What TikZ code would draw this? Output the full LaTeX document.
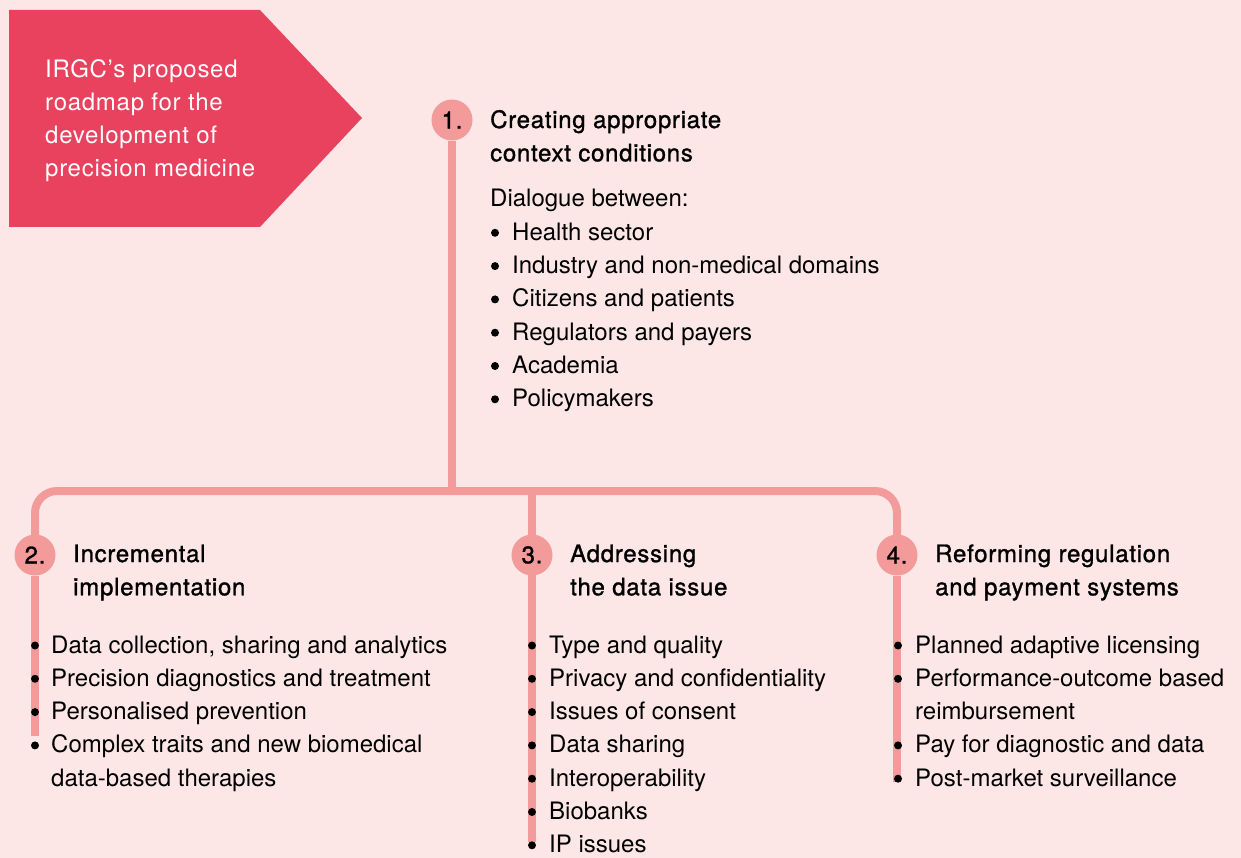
\documentclass[tikz,border=0pt]{standalone}
\usepackage{fontspec}
\setmainfont{TeX Gyre Heros}
\newfontfamily\medfont{TeX Gyre Heros}[FakeBold=1.2,LetterSpace=3]
\newfontfamily\widefont{TeX Gyre Heros}[LetterSpace=3]
\usetikzlibrary{positioning}
\definecolor{bgpink}{HTML}{FCE7E6}
\definecolor{bannerred}{HTML}{E9425E}
\definecolor{linepink}{HTML}{F39A9A}
\pgfdeclarelayer{behind}
\pgfsetlayers{behind,main}
\newcommand\bodyfont{\fontsize{24}{33.3}\selectfont}
\newcommand\headfont{\fontsize{24}{33.3}\medfont}
\newcommand\stack[1]{\begin{tabular}[t]{@{}l@{}}#1\end{tabular}}
\newcommand\bulletdots[3]{% x of the dots, first baseline, line numbers
  \foreach \k in {#3}{
    \fill[black] (#1,{#2+33.3*\k-7.5}) circle (4);
  }
}

\begin{document}
\begin{tikzpicture}[x=1pt,y=-1pt,
    body/.style={anchor=base west,inner sep=0pt,font=\bodyfont},
    head/.style={anchor=base west,inner sep=0pt,font=\headfont},
    numdot/.style={circle,fill=linepink,minimum size=41pt,inner sep=0pt,font=\headfont},
    branch/.style={draw=linepink,line width=8pt}]
  \useasboundingbox (0,0) rectangle (1241,858);
  % banner
  \fill[bannerred] (9,10) -- (260,10) -- (362,118) -- (260,227) -- (9,227) -- cycle;
  \node[body,text=white,font=\fontsize{24}{33}\widefont] (title) at (45,78)
    {\stack{IRGC’s proposed\\roadmap for the\\development of\\precision medicine}};
  % numbered steps
  \node[numdot] (n1) at (452,120) {1.};
  \node[numdot] (n2) at (35,555) {2.};
  \node[numdot] (n3) at (532,555) {3.};
  \node[numdot] (n4) at (897,555) {4.};
  \node[head] (h1) at (490,128) {\stack{Creating appropriate\\context conditions}};
  \node[head] (h2) at (73,562) {\stack{Incremental\\implementation}};
  \node[head] (h3) at (570,562) {\stack{Addressing\\the data issue}};
  \node[head] (h4) at (935,562) {\stack{Reforming regulation\\and payment systems}};
  % lists
  \node[body] (intro) at (490,207) {Dialogue between:};
  \node[body] (list1) at (512,240.3) {\stack{Health sector\\Industry and non-medical domains\\Citizens and patients\\Regulators and payers\\Academia\\Policymakers}};
  \node[body] (list2) at (51,653) {\stack{Data collection, sharing and analytics\\Precision diagnostics and treatment\\Personalised prevention\\Complex traits and new biomedical\\data-based therapies}};
  \node[body] (list3) at (549,653) {\stack{Type and quality\\Privacy and confidentiality\\Issues of consent\\Data sharing\\Interoperability\\Biobanks\\IP issues}};
  \node[body] (list4) at (915,653) {\stack{Planned adaptive licensing\\Performance-outcome based\\reimbursement\\Pay for diagnostic and data\\Post-market surveillance}};
  % tree
  \coordinate (hub) at (452,491);
  \coordinate (end2) at (35,736);
  \coordinate (end3) at (532,842);
  \coordinate (end4) at (897,782);
  \begin{pgfonlayer}{behind}
    \fill[bgpink] (0,0) rectangle (1241,858);
    \draw[branch] (n1) -- (hub);
    \draw[branch,rounded corners=22pt] (n2.center) |- (hub) -| (n4.center);
    \draw[branch] (n2) -- (end2);
    \draw[branch] (hub -| n3) -- (end3);
    \draw[branch] (n4) -- (end4);
  \end{pgfonlayer}
  \bulletdots{495}{240.3}{0,...,5}
  \bulletdots{35}{653}{0,1,2,3}
  \bulletdots{532}{653}{0,...,6}
  \bulletdots{898}{653}{0,1,3,4}
\end{tikzpicture}
\end{document}
